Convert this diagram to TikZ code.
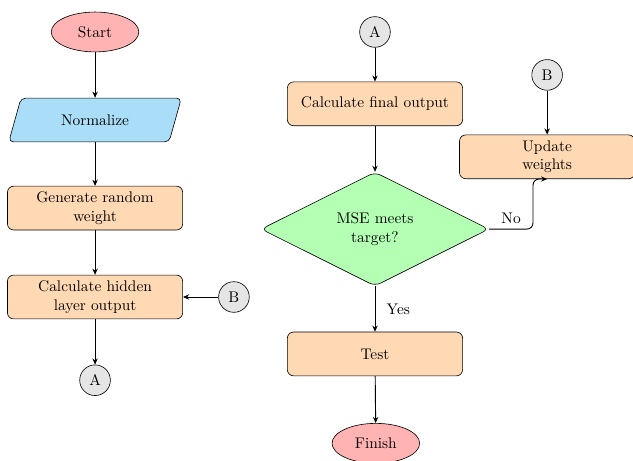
\documentclass[tikz,border=0pt]{standalone}
\usetikzlibrary{shapes.geometric,arrows.meta,calc}
\definecolor{startred}{RGB}{255,179,179}
\definecolor{ioblue}{RGB}{170,222,248}
\definecolor{procorange}{RGB}{255,217,179}
\definecolor{decgreen}{RGB}{179,255,179}
\definecolor{conngray}{RGB}{229,229,229}
\begin{document}
\begin{tikzpicture}[
  terminal/.style={ellipse, draw, fill=startred, minimum width=2cm, minimum height=0.91cm, inner sep=1pt},
  iobox/.style={rectangle, minimum width=3.7cm, minimum height=1cm, inner sep=2pt},
  ioshape/.style={draw, fill=ioblue, rounded corners=3pt},
  procbox/.style={rectangle, draw, fill=procorange, rounded corners=4pt, minimum width=4cm, minimum height=1cm, align=center, inner sep=2pt},
  decbox/.style={diamond, draw, fill=decgreen, rounded corners=4pt, minimum width=5.2cm, minimum height=2.6cm, aspect=2, align=center, inner sep=1pt},
  connector/.style={circle, draw, fill=conngray, minimum size=0.7cm, inner sep=0pt},
  flow/.style={-{Stealth[length=4pt,width=3.5pt]}, semithick},
  every node/.style={font=\normalsize}
]
\useasboundingbox (0,0) rectangle (14.45,-10.52);

% left column
\node[terminal] (start) at (2.17,-0.73) {Start};
\coordinate (nc) at (2.17,-2.74);
\draw[ioshape] ($(nc)+(-1.97,-0.5)$) -- ($(nc)+(1.69,-0.5)$) -- ($(nc)+(1.97,0.5)$) -- ($(nc)+(-1.69,0.5)$) -- cycle;
\node[iobox] (norm) at (nc) {Normalize};
\node[procbox] (gen) at (2.17,-4.75) {Generate random\\weight};
\node[procbox] (hid) at (2.17,-6.78) {Calculate hidden\\layer output};
\node[connector] (bl) at (5.34,-6.78) {B};
\node[connector] (al) at (2.17,-8.68) {A};

% right column
\node[connector] (ar) at (8.56,-0.73) {A};
\node[procbox] (fin) at (8.56,-2.37) {Calculate final output};
\node[decbox] (dec) at (8.56,-5.23) {MSE meets\\target?};
\node[procbox] (test) at (8.56,-8.08) {Test};
\node[terminal] (finish) at (8.58,-10.12) {Finish};
\node[connector] (br) at (12.49,-1.71) {B};
\node[procbox] (upd) at (12.49,-3.58) {Update\\weights};

\draw[flow] (start) -- (norm);
\draw[flow] (norm) -- (gen);
\draw[flow] (gen) -- (hid);
\draw[flow] (hid) -- (al);
\draw[flow] (bl) -- (hid);

\draw[flow] (ar) -- (fin);
\draw[flow] (fin) -- (dec);
\draw[flow] (dec) -- node[right, xshift=4pt] {Yes} (test);
\draw[flow] (test) -- (finish);
\draw[flow] (br) -- (upd);
\draw[flow, rounded corners=4pt] (dec.east) -- node[above, pos=0.5] {No} ++(1.0,0) |- (upd.south);
\end{tikzpicture}
\end{document}
